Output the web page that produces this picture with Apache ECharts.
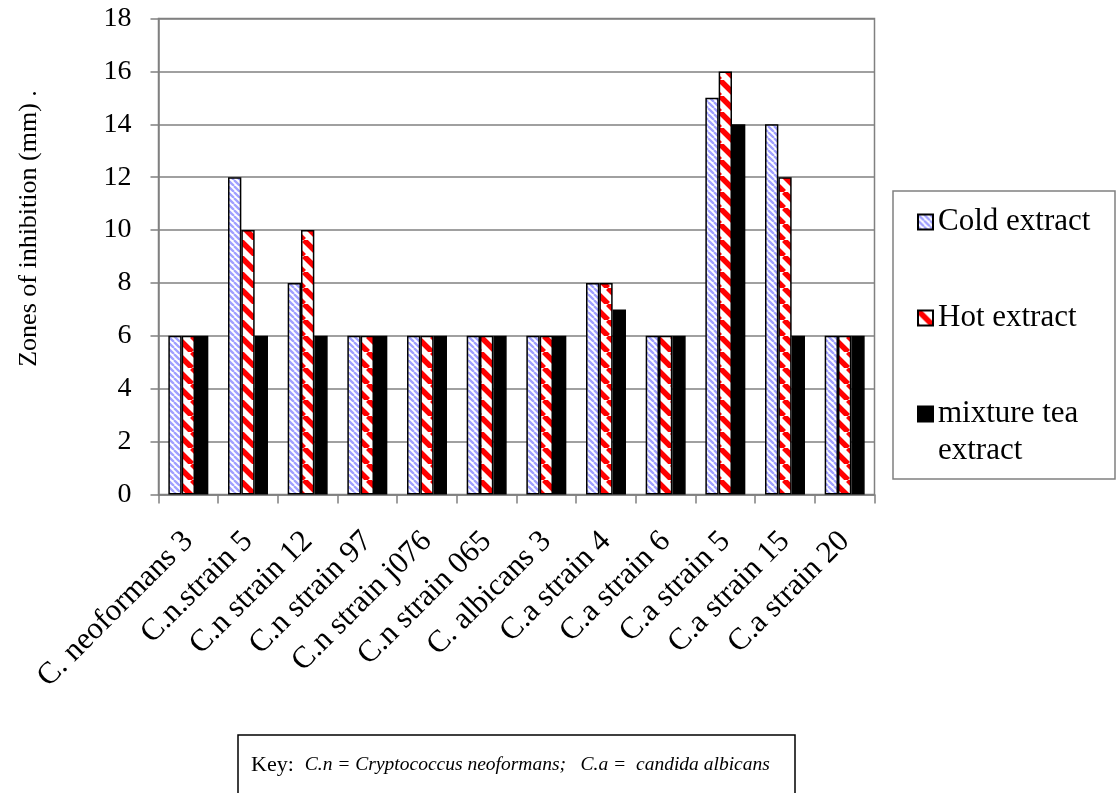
<!DOCTYPE html>
<html>
<head>
<meta charset="utf-8">
<script src="https://cdn.jsdelivr.net/npm/echarts@6/dist/echarts.min.js"></script>
<style>
  html, body { margin: 0; padding: 0; background: #ffffff; }
  #chart { width: 1117px; height: 793px; }
</style>
</head>
<body>
<div id="chart"></div>
<script>
// Strains tested
const categories = [
  'C. neoformans 3', 'C.n.strain 5', 'C.n strain 12', 'C.n strain 97',
  'C.n strain j076', 'C.n strain 065', 'C. albicans 3', 'C.a strain 4',
  'C.a strain 6', 'C.a strain 5', 'C.a strain 15', 'C.a strain 20'
];
// Zones of inhibition (mm) per extract
const coldExtract    = [6, 12, 8, 6, 6, 6, 6, 8, 6, 15, 14, 6];
const hotExtract     = [6, 10, 10, 6, 6, 6, 6, 8, 6, 16, 12, 6];
const mixtureExtract = [6, 6, 6, 6, 6, 6, 6, 7, 6, 14, 6, 6];
const seriesNames = ['Cold extract', 'Hot extract', 'mixture tea extract'];

const SERIF = "'Liberation Serif', 'Times New Roman', serif";

// Diagonal "\" hatch tile used as a repeating fill
function hatch(size, lineWidth, fg, bg) {
  const c = document.createElement('canvas');
  c.width = c.height = size;
  const g = c.getContext('2d');
  g.fillStyle = bg;
  g.fillRect(0, 0, size, size);
  g.strokeStyle = fg;
  g.lineWidth = lineWidth;
  g.beginPath();
  for (let k = -1; k <= 1; k++) {
    g.moveTo(k * size, 0);
    g.lineTo(k * size + size, size);
  }
  g.stroke();
  return c;
}

const coldFill = { image: hatch(6, 2.3, '#a0a0ff', '#ffffff'), repeat: 'repeat' };
const hotFill  = { image: hatch(16, 5.5, '#ff0000', '#ffffff'), repeat: 'repeat' };

const barStyle = (fill) => ({ color: fill, borderColor: '#000000', borderWidth: 1.5 });

function makeSeries(name, data, fill) {
  return {
    name: name,
    type: 'bar',
    data: data,
    barGap: '0%',
    barCategoryGap: '33%',
    itemStyle: barStyle(fill),
    emphasis: { disabled: true }
  };
}

const legendText = { fontFamily: SERIF, fontSize: 31, color: '#000000', lineHeight: 37 };
function legendAt(name, top, formatter) {
  return {
    data: [name],
    orient: 'vertical',
    left: 917,
    top: top,
    padding: 0,
    icon: 'rect',
    itemWidth: 15,
    itemHeight: 15,
    itemGap: 0,
    selectedMode: false,
    textStyle: legendText,
    formatter: formatter
  };
}

const chart = echarts.init(document.getElementById('chart'), null, { renderer: 'canvas' });
chart.setOption({
  animation: false,
  backgroundColor: '#ffffff',
  grid: {
    left: 158.5, right: 242.5, top: 18.5, bottom: 298.5,
    show: true, borderColor: '#808080', borderWidth: 1.5, backgroundColor: 'transparent'
  },
  xAxis: {
    type: 'category',
    data: categories,
    axisLine: { lineStyle: { color: '#808080', width: 1.5 } },
    axisTick: { show: true, length: 9, alignWithLabel: false, lineStyle: { color: '#808080', width: 1.5 } },
    axisLabel: {
      rotate: 45, margin: 42, interval: 0,
      fontFamily: SERIF, fontSize: 31, color: '#000000'
    },
    splitLine: { show: false }
  },
  yAxis: {
    type: 'value',
    min: 0, max: 18, interval: 2,
    name: 'Zones of inhibition (mm) .',
    nameLocation: 'middle',
    nameGap: 116,
    nameRotate: 90,
    nameTextStyle: { fontFamily: SERIF, fontSize: 26, color: '#000000', padding: [0, 0, 0, 56] },
    axisLine: { show: true, lineStyle: { color: '#808080', width: 1.5 } },
    axisTick: { show: true, length: 8, lineStyle: { color: '#808080', width: 1.5 } },
    axisLabel: { margin: 27, fontFamily: SERIF, fontSize: 28, color: '#000000' },
    splitLine: { show: true, lineStyle: { color: '#808080', width: 1.5 } }
  },
  legend: [
    legendAt(seriesNames[0], 222 - 18.5),
    legendAt(seriesNames[1], 318 - 18.5),
    legendAt(seriesNames[2], 414 - 55.5, () => '\nmixture tea\nextract')
  ],
  graphic: [
    {
      type: 'rect',
      shape: { x: 893, y: 191, width: 222, height: 288 },
      style: { fill: 'none', stroke: '#808080', lineWidth: 1.5 },
      z: 1
    },
    {
      type: 'rect',
      shape: { x: 238, y: 735, width: 557, height: 80 },
      style: { fill: '#ffffff', stroke: '#000000', lineWidth: 1.5 }
    },
    {
      type: 'text',
      x: 251, y: 765,
      style: {
        text: 'Key:  {i|C.n = Cryptococcus neoformans;   C.a =  candida albicans}',
        fontFamily: SERIF, fontSize: 22, fill: '#000000',
        verticalAlign: 'middle',
        rich: { i: { fontFamily: SERIF, fontSize: 19.5, fontStyle: 'italic', fill: '#000000' } }
      }
    }
  ],
  series: [
    makeSeries(seriesNames[0], coldExtract, coldFill),
    makeSeries(seriesNames[1], hotExtract, hotFill),
    makeSeries(seriesNames[2], mixtureExtract, '#000000')
  ]
});
</script>
</body>
</html>
